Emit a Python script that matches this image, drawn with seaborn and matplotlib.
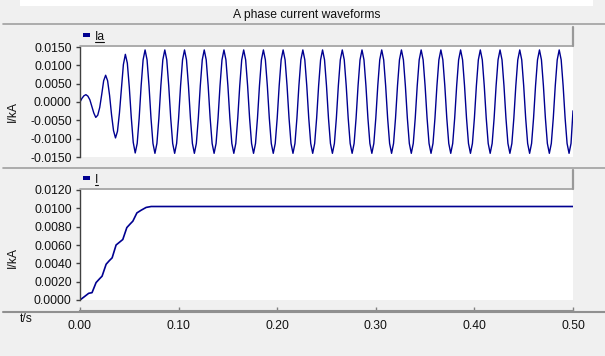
import numpy as np
import pandas as pd
import matplotlib
matplotlib.use("Agg")
import matplotlib.pyplot as plt
import seaborn as sns
from matplotlib.lines import Line2D
from matplotlib.patches import Rectangle
from matplotlib.ticker import FormatStrFormatter, MultipleLocator

# Ia waveform, every 2 ms (one 50 Hz cycle per row)
ia_vals = [
    0.0000, 0.0010, 0.0017, 0.0020, 0.0016, 0.0006, -0.0012, -0.0030, -0.0042, -0.0036,
    -0.0015, 0.0020, 0.0058, 0.0073, 0.0058, 0.0018, -0.0035, -0.0078, -0.0098, -0.0080,
    -0.0030, 0.0035, 0.0102, 0.0130, 0.0106, 0.0040, -0.0042, -0.0110, -0.0139, -0.0113,
    -0.0044, 0.0044, 0.0115, 0.0142, 0.0115, 0.0044, -0.0044, -0.0113, -0.0140, -0.0113,
    -0.0044, 0.0044, 0.0115, 0.0142, 0.0115, 0.0044, -0.0044, -0.0113, -0.0140, -0.0113,
    -0.0044, 0.0044, 0.0115, 0.0142, 0.0115, 0.0044, -0.0044, -0.0113, -0.0140, -0.0113,
    -0.0044, 0.0044, 0.0115, 0.0142, 0.0115, 0.0044, -0.0044, -0.0113, -0.0140, -0.0113,
    -0.0044, 0.0044, 0.0115, 0.0142, 0.0115, 0.0044, -0.0044, -0.0113, -0.0140, -0.0113,
    -0.0044, 0.0044, 0.0115, 0.0142, 0.0115, 0.0044, -0.0044, -0.0113, -0.0140, -0.0113,
    -0.0044, 0.0044, 0.0115, 0.0142, 0.0115, 0.0044, -0.0044, -0.0113, -0.0140, -0.0113,
    -0.0044, 0.0044, 0.0115, 0.0142, 0.0115, 0.0044, -0.0044, -0.0113, -0.0140, -0.0113,
    -0.0044, 0.0044, 0.0115, 0.0142, 0.0115, 0.0044, -0.0044, -0.0113, -0.0140, -0.0113,
    -0.0044, 0.0044, 0.0115, 0.0142, 0.0115, 0.0044, -0.0044, -0.0113, -0.0140, -0.0113,
    -0.0044, 0.0044, 0.0115, 0.0142, 0.0115, 0.0044, -0.0044, -0.0113, -0.0140, -0.0113,
    -0.0044, 0.0044, 0.0115, 0.0142, 0.0115, 0.0044, -0.0044, -0.0113, -0.0140, -0.0113,
    -0.0044, 0.0044, 0.0115, 0.0142, 0.0115, 0.0044, -0.0044, -0.0113, -0.0140, -0.0113,
    -0.0044, 0.0044, 0.0115, 0.0142, 0.0115, 0.0044, -0.0044, -0.0113, -0.0140, -0.0113,
    -0.0044, 0.0044, 0.0115, 0.0142, 0.0115, 0.0044, -0.0044, -0.0113, -0.0140, -0.0113,
    -0.0044, 0.0044, 0.0115, 0.0142, 0.0115, 0.0044, -0.0044, -0.0113, -0.0140, -0.0113,
    -0.0044, 0.0044, 0.0115, 0.0142, 0.0115, 0.0044, -0.0044, -0.0113, -0.0140, -0.0113,
    -0.0044, 0.0044, 0.0115, 0.0142, 0.0115, 0.0044, -0.0044, -0.0113, -0.0140, -0.0113,
    -0.0044, 0.0044, 0.0115, 0.0142, 0.0115, 0.0044, -0.0044, -0.0113, -0.0140, -0.0113,
    -0.0044, 0.0044, 0.0115, 0.0142, 0.0115, 0.0044, -0.0044, -0.0113, -0.0140, -0.0113,
    -0.0044, 0.0044, 0.0115, 0.0142, 0.0115, 0.0044, -0.0044, -0.0113, -0.0140, -0.0113,
    -0.0044, 0.0044, 0.0115, 0.0142, 0.0115, 0.0044, -0.0044, -0.0113, -0.0140, -0.0113,
    -0.0024,
]
ia_t = np.linspace(0, 0.5, len(ia_vals))

# RMS current I
i_t = [0, 0.0044, 0.0088, 0.0122, 0.0163, 0.0197, 0.0224, 0.0265, 0.0298, 0.0326,
       0.0366, 0.0400, 0.0434, 0.0475, 0.0509, 0.0536, 0.0577, 0.0621, 0.0671, 0.0722, 0.5]
i_vals = [0, 0.00036, 0.00073, 0.0008, 0.0019, 0.0023, 0.0026, 0.0039, 0.0043, 0.0046,
          0.0060, 0.0063, 0.0066, 0.0079, 0.0083, 0.0086, 0.0095, 0.0098, 0.0101, 0.0102, 0.0102]

x_ticks = [0.0, 0.1, 0.2, 0.3, 0.4, 0.5]

sns.set_style("white")
plt.rcParams['font.family'] = ['Liberation Sans', 'DejaVu Sans']
plt.rcParams['axes.unicode_minus'] = False

W, H = 605, 356
FS = 8.7
bg = '#f0f0f0'
line_col = '#000090'
fig = plt.figure(figsize=(W / 100, H / 100), dpi=100, facecolor=bg)

def fx(px):
    return px / W

def fy(py):
    return 1 - py / H

def fig_line(x0, x1, y0, y1, color='#a0a0a0', lw=1.2):
    fig.add_artist(Line2D([fx(x0), fx(x1)], [fy(y0), fy(y1)], transform=fig.transFigure,
                          color=color, lw=lw))

# window strip on top
fig.add_artist(Rectangle((fx(20), fy(6)), fx(593) - fx(20), 6 / H, transform=fig.transFigure,
                         facecolor='white', edgecolor='none'))

fig.text(fx(307), fy(15), "A phase current waveforms", ha='center', va='center', fontsize=FS, color='#111111')
fig_line(3, 605, 24, 24)
fig_line(3, 605, 168, 168)

ax1 = fig.add_axes([fx(80), fy(157), (573 - 80) / W, 110 / H])
ax2 = fig.add_axes([fx(80), fy(300), (573 - 80) / W, 110 / H])

df1 = pd.DataFrame({'t': ia_t, 'Ia': ia_vals})
df2 = pd.DataFrame({'t': i_t, 'I': i_vals})
sns.lineplot(data=df1, x='t', y='Ia', ax=ax1, color=line_col, lw=1.0, estimator=None, sort=False)
sns.lineplot(data=df2, x='t', y='I', ax=ax2, color=line_col, lw=1.2, estimator=None, sort=False)

for ax in (ax1, ax2):
    ax.set_facecolor('white')
    ax.set_xlim(0, 0.5)
    ax.set_xlabel('')
    ax.set_ylabel('')
    for s in ('top', 'right', 'bottom'):
        ax.spines[s].set_visible(False)
    ax.spines['left'].set_color('#404040')
    ax.spines['left'].set_linewidth(1.0)
    ax.yaxis.set_major_formatter(FormatStrFormatter('%.4f'))
    ax.tick_params(axis='y', direction='out', length=3, width=1, color='#404040',
                   labelsize=FS, labelcolor='#111111', pad=3, left=True)

ax1.set_ylim(-0.015, 0.015)
ax1.yaxis.set_major_locator(MultipleLocator(0.005))
ax1.set_xticks([])

ax2.set_ylim(0, 0.012)
ax2.yaxis.set_major_locator(MultipleLocator(0.002))
ax2.set_xticks(x_ticks)
ax2.xaxis.set_major_formatter(FormatStrFormatter('%.2f'))
ax2.spines['bottom'].set_visible(True)
ax2.spines['bottom'].set_position(('outward', 8.2))
ax2.spines['bottom'].set_color('#909090')
ax2.spines['bottom'].set_linewidth(1.5)
ax2.tick_params(axis='x', direction='in', length=3, width=1, color='#808080',
                labelsize=FS, labelcolor='#111111', pad=6.5, bottom=True)
fig_line(3, 605, 311.7, 311.7, color='#909090', lw=1.5)

# header strips above each panel
for top, bot, name, ux1 in ((27, 46, 'Ia', 104), (170, 189, 'I', 98)):
    fig_line(80, 573, bot, bot, color='#a0a0a0', lw=1.2)
    fig_line(573, 573, top, bot, color='#999999', lw=1.6)
    fig.add_artist(Rectangle((fx(83), fy(bot - 9)), 7 / W, 4 / H, transform=fig.transFigure,
                             facecolor=line_col, edgecolor='none'))
    fig.text(fx(95), fy(bot - 6), name, ha='left', va='baseline', fontsize=FS, color='#111111')
    fig_line(95, ux1, bot - 4.5, bot - 4.5, color='#111111', lw=0.8)

fig.text(fx(13), fy(112), "I/kA", rotation=90, ha='center', va='center', fontsize=FS, color='#111111')
fig.text(fx(13), fy(257), "I/kA", rotation=90, ha='center', va='center', fontsize=FS, color='#111111')
fig.text(fx(26), fy(319), "t/s", ha='center', va='center', fontsize=FS, color='#111111')

fig.savefig('out.png', dpi=100, facecolor=bg)
